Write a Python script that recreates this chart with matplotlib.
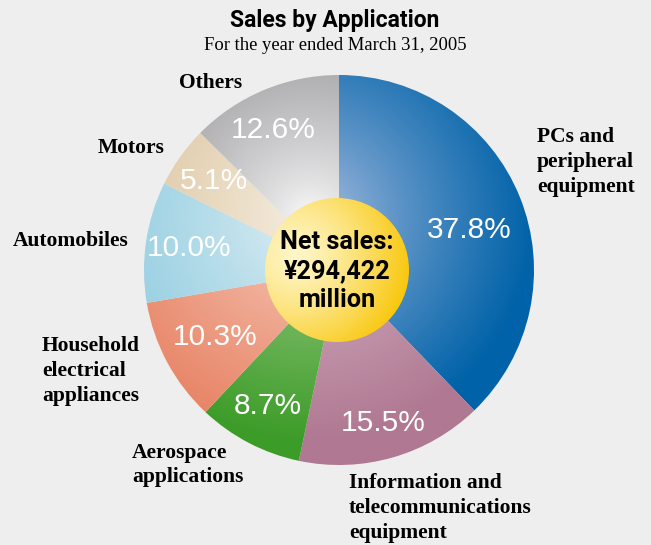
import numpy as np
import matplotlib.pyplot as plt
from matplotlib.patches import Circle
from matplotlib.colors import to_rgb

# dados do gráfico
categorias = ["PCs and\nperipheral\nequipment",
              "Information and\ntelecommunications\nequipment",
              "Aerospace\napplications",
              "Household\nelectrical\nappliances",
              "Automobiles",
              "Motors",
              "Others"]
valores = [37.8, 15.5, 8.7, 10.3, 10.0, 5.1, 12.6]
rotulos_pct = ["37.8%", "15.5%", "8.7%", "10.3%", "10.0%", "5.1%", "12.6%"]
titulo = "Sales by Application"
subtitulo = "For the year ended March 31, 2005"
texto_centro = "Net sales:\n¥294,422\nmillion"

# cores do gradiente (claro -> escuro) por fatia
cor_clara = ["#bac6e6", "#dcc2d0", "#b4d6a0", "#f8d6c8", "#e6f2f6", "#f8f2e8", "#ffffff"]
cor_escura = ["#0062a8", "#b07892", "#3c9c28", "#e88466", "#90cce0", "#dcc49e", "#929094"]

# layout (coordenadas em pixels, y para cima)
W, H = 651, 545
cx, cy, R = 339, H - 270, 195
luz = (310, H - 218)
pos_cat = [(537, H - 162, "left"), (349, H - 508, "left"), (132, H - 465, "left"),
           (42, H - 371, "left"), (13, H - 241, "left"), (165, H - 148, "right"),
           (242, H - 83, "right")]
raio_pct = [136, 159, 153, 141, 152, 153, 155]
desvio_ang = [-4.9, 0, 0, 0, 0, 0, 2.5]
fonte_cond = ["Roboto", "DejaVu Sans"]

fig = plt.figure(figsize=(W / 100, H / 100), dpi=100)
fig.patch.set_facecolor("#eeeeee")
ax = fig.add_axes([0, 0, 1, 1])

wedges, _ = ax.pie(valores, startangle=90, counterclock=False, radius=R,
                   center=(cx, cy), frame=True,
                   wedgeprops=dict(facecolor="none", edgecolor="none"))
ax.set_xlim(0, W)
ax.set_ylim(0, H)
ax.set_aspect("equal")
ax.axis("off")

# gradiente radial em cada fatia
n = 400
xs = np.linspace(cx - R, cx + R, n)
ys = np.linspace(cy - R, cy + R, n)
X, Y = np.meshgrid(xs, ys)
dist = np.hypot(X - luz[0], Y - luz[1])
t = np.clip(dist / 225, 0, 1) ** 0.75
for w, c1, c2 in zip(wedges, cor_clara, cor_escura):
    a, b = np.array(to_rgb(c1)), np.array(to_rgb(c2))
    img = a + (b - a) * t[..., None]
    im = ax.imshow(img, extent=(cx - R, cx + R, cy - R, cy + R), origin="lower",
                   zorder=1, interpolation="bilinear")
    im.set_clip_path(w)

# círculo central dourado
rc = 72
ccx, ccy = 337, cy
circ = Circle((ccx, ccy), rc, facecolor="none", edgecolor="none", zorder=3)
ax.add_patch(circ)
xs2 = np.linspace(ccx - rc, ccx + rc, 200)
ys2 = np.linspace(ccy - rc, ccy + rc, 200)
X2, Y2 = np.meshgrid(xs2, ys2)
d2 = np.clip(np.hypot(X2 - (ccx - 40), Y2 - (ccy + 15)) / 120, 0, 1)
a, b = np.array(to_rgb("#fff6c8")), np.array(to_rgb("#f8c400"))
img2 = a + (b - a) * d2[..., None] ** 1.3
im2 = ax.imshow(img2, extent=(ccx - rc, ccx + rc, ccy - rc, ccy + rc), origin="lower",
                zorder=3, interpolation="bilinear")
im2.set_clip_path(circ)
ax.set_xlim(0, W)
ax.set_ylim(0, H)

ax.text(ccx, ccy - 1, texto_centro, ha="center", va="center", fontsize=18.2,
        fontweight="bold", family=fonte_cond, linespacing=1.25, zorder=5)

# rótulos de porcentagem
for w, txt, r, da in zip(wedges, rotulos_pct, raio_pct, desvio_ang):
    ang = np.deg2rad((w.theta1 + w.theta2) / 2 + da)
    ax.text(cx + r * np.cos(ang), cy + r * np.sin(ang), txt, ha="center",
            va="center", fontsize=21.5, color="white",
            family="Liberation Sans", zorder=4)

# rótulos das categorias
for cat, (x, y, al) in zip(categorias, pos_cat):
    ax.text(x, y, cat, ha=al, va="center", fontsize=15.5, fontweight="bold",
            family="Liberation Serif", linespacing=1.32, multialignment="left")

ax.text(335, H - 20, titulo, ha="center", va="center", fontsize=16.5,
        fontweight="bold", family=fonte_cond)
ax.text(335, H - 45, subtitulo, ha="center", va="center", fontsize=13.4,
        family="Liberation Serif")

fig.savefig("out.png", dpi=100, facecolor=fig.get_facecolor())
plt.close()
